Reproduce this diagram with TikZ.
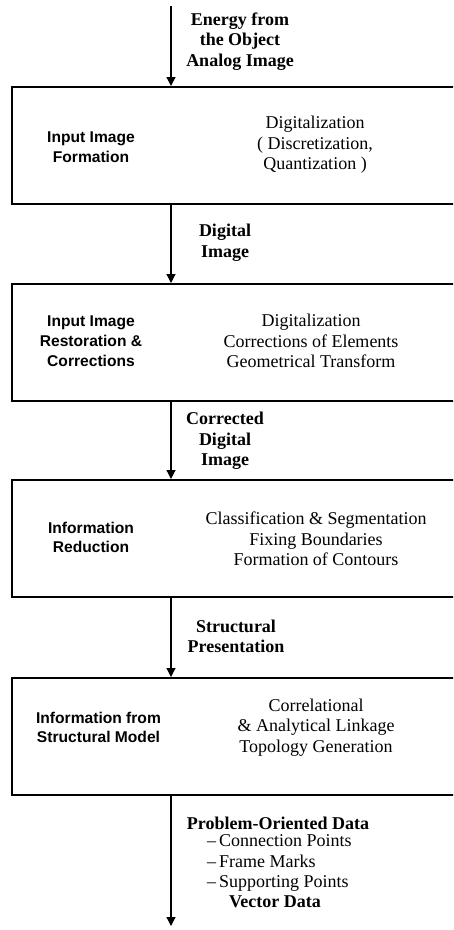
\documentclass[tikz,border=0pt]{standalone}
\usepackage{fontspec}
\setmainfont{Liberation Serif}
\setsansfont{Liberation Sans}
\usetikzlibrary{arrows.meta}
\begin{document}
\begin{tikzpicture}[x=1pt,y=-1pt,
  stage/.style={draw, line width=1.6pt, minimum width=452pt, minimum height=117pt, inner sep=0pt, anchor=north west},
  lab/.style={font=\sffamily\bfseries\fontsize{15.6}{19.8}\selectfont, align=center, inner sep=0pt},
  desc/.style={font=\fontsize{18}{20.5}\selectfont, align=center, inner sep=0pt},
  flow/.style={font=\bfseries\fontsize{18}{20.5}\selectfont, align=center, inner sep=0pt},
  items/.style={font=\fontsize{18}{20.5}\selectfont, align=left, inner sep=0pt, anchor=west},
  conn/.style={line width=1.2pt, -{Triangle[width=9pt,length=9pt]}}]
\useasboundingbox (0,0) rectangle (453,930);
\clip (0,0) rectangle (453,930);

% stage boxes
\node[stage] (b1) at (11,86) {};
\node[stage] (b2) at (11,283) {};
\node[stage] (b3) at (11,479) {};
\node[stage] (b4) at (11,677) {};

% box texts
\node[lab] (l1) at (91,147.5) {Input Image\\Formation};
\node[desc] (d1) at (315,145) {Digitalization\\( Discretization,\\Quantization )};
\node[lab] (l2) at (91,341) {Input Image\\Restoration \&\\Corrections};
\node[desc] (d2) at (311,341) {Digitalization\\Corrections of Elements\\Geometrical Transform};
\node[lab] (l3) at (91,537.5) {Information\\Reduction};
\node[desc] (d3) at (316,539) {Classification \& Segmentation\\Fixing Boundaries\\Formation of Contours};
\node[lab] (l4) at (98.5,727.5) {Information from\\Structural Model};
\node[desc] (d4) at (316,727.5) {Correlational\\\& Analytical Linkage\\Topology Generation};

% flow labels
\node[flow] (f0) at (240,41.5) {Energy from\\the Object\\Analog Image};
\node[flow] (f1) at (225,242.5) {Digital\\Image};
\node[flow] (f2) at (225,441) {Corrected\\Digital\\Image};
\node[flow] (f3) at (236,636.5) {Structural\\Presentation};
\node[flow] (f4) at (278,823) {Problem-Oriented Data};
\node[items] (f5) at (207,863) {–\,Connection Points\\–\,Frame Marks\\–\,Supporting Points};
\node[flow] (f6) at (275,902) {Vector Data};

% connectors
\coordinate (top) at (171,6);
\coordinate (bottom) at (171,926);
\draw[conn] (top) -- (top |- b1.north);
\draw[conn] (top |- b1.south) -- (top |- b2.north);
\draw[conn] (top |- b2.south) -- (top |- b3.north);
\draw[conn] (top |- b3.south) -- (top |- b4.north);
\draw[conn] (top |- b4.south) -- (bottom);
\end{tikzpicture}
\end{document}
